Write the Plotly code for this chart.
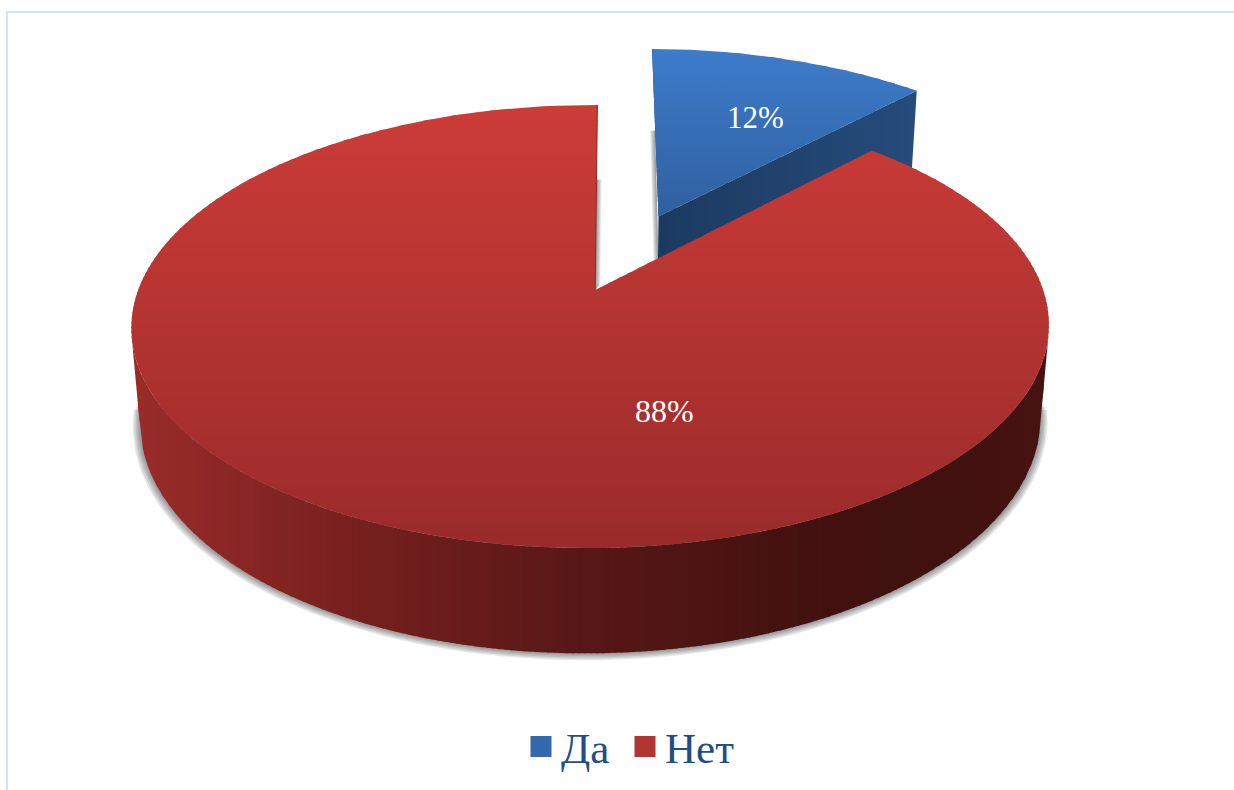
import numpy as np
import plotly.graph_objects as go

labels = ["Да", "Нет"]
values = [12, 88]
label_text = ["12%", "88%"]

# styling
SERIF = "Liberation Serif"
TOP_BLUE = ((61, 124, 203), (47, 96, 159))
TOP_RED = ((204, 60, 55), (154, 43, 43))
WALL_RED_X = [135, 350, 580, 800, 900, 1045]
WALL_RED_C = [(154, 44, 42), (120, 33, 31), (88, 24, 23), (68, 18, 15), (63, 17, 15), (70, 20, 18)]
WALL_BLUE = ((27, 58, 96), (38, 76, 124))
SWATCH = ("#3569AE", "#B03533")

# camera model: flat disc coordinates -> pixels (axes run in pixels)
X0, Y0, A, B, S, K, J, M, C = 595.2, 290.0, 452.5, 215.5, 2.6, 0.165, 0.01, 0.019, 94.8
PULL = 0.395
BLUE_R = 1.012


def proj(u, v, z=0.0):
    u, v = np.asarray(u, float), np.asarray(v, float)
    w = 1 + K * v + J * u + M * z
    return X0 + (A * u + S * v) / w, Y0 - (B * v - C * z) / w


def mix(c0, c1, t):
    return "rgb(%d,%d,%d)" % tuple(round(a + (b - a) * t) for a, b in zip(c0, c1))


def clip_band(xs, ys, lo, hi, axis=1):
    pts = list(zip(xs, ys))
    for lim, sign in ((lo, 1), (hi, -1)):
        out = []
        for i in range(len(pts)):
            a, b = pts[i - 1], pts[i]
            ia, ib = sign * (a[axis] - lim) >= 0, sign * (b[axis] - lim) >= 0
            if ia != ib:
                t = (lim - a[axis]) / (b[axis] - a[axis])
                out.append((a[0] + (b[0] - a[0]) * t, a[1] + (b[1] - a[1]) * t))
            if ib:
                out.append(b)
        pts = out
        if not pts:
            return [], []
    return [p[0] for p in pts], [p[1] for p in pts]


fig = go.Figure()


def poly(xs, ys, color):
    fig.add_trace(go.Scatter(
        x=list(xs) + [xs[0]], y=list(ys) + [ys[0]], mode="lines", fill="toself", fillcolor=color,
        line=dict(color=color, width=0), hoverinfo="skip", showlegend=False))


def banded(xs, ys, color_of, axis, n):
    """Fill a polygon as overlapping bands, each with its own colour."""
    vals = xs if axis == 0 else ys
    lo, hi = min(vals), max(vals)
    edges = np.linspace(lo, hi, n + 1)
    for i in range(n):
        cx, cy = clip_band(xs, ys, edges[i], min(edges[i + 1] + 1.5, hi), axis)
        if len(cx) > 2:
            poly(cx, cy, color_of((edges[i] + edges[i + 1]) / 2, (i + .5) / n))


def sector(a0, a1, cu=0.0, cv=0.0, r=1.0, n=160):
    t = np.radians(np.linspace(a0, a1, n))
    return proj(np.r_[cu, cu + r * np.sin(t)], np.r_[cv, cv + r * np.cos(t)])


total = sum(values)
blue_end = 360 * values[0] / total
mid = np.radians(blue_end / 2)
cu, cv = PULL * np.sin(mid) + 0.001, PULL * np.cos(mid) - 0.005

# soft shadow under the front of the drum
th = np.radians(np.linspace(40, 320, 240))
for e in range(5, 0, -1):
    r = 1 + e * 0.0032
    sx, sy = proj(r * np.sin(th), r * np.cos(th), 1.0)
    sy = sy + e * 0.35
    cx, cy = clip_band(list(sx), list(sy), 395 + e * 3, 790)
    poly(cx, cy, "rgba(60,60,60,0.12)")

# shadows beside the notch walls
for e in range(5, 0, -1):
    x0, y0 = proj(0, 0)
    x1, y1 = proj(0, 0.56)
    poly([x0, x1, x1 + e, x0 + e], [y0, y1, y1, y0 - e], "rgba(60,60,60,0.12)")
    x0, y0 = proj(cu, cv)
    x1, y1 = proj(cu, cv + 0.48)
    poly([x0, x1, x1 - e, x0 - e], [y0 + 45, y1, y1, y0 + 45], "rgba(60,60,60,0.12)")

# blue slice: visible straight wall, then its top
e_u = cu + BLUE_R * np.sin(np.radians(blue_end))
e_v = cv + BLUE_R * np.cos(np.radians(blue_end))
tx, ty = proj([cu, e_u], [cv, e_v])
bx, by = proj([cu, e_u], [cv, e_v], 1.0)
banded([tx[0], tx[1], bx[1], bx[0]], [ty[0], ty[1], by[1], by[0]],
       lambda p, t: mix(*WALL_BLUE, t), axis=0, n=30)
# thin wall along the left edge
tx, ty = proj([cu, cu], [cv, cv + BLUE_R])
poly([tx[0], tx[1], tx[1] + 1.4, tx[0] + 1.4], [ty[0], ty[1], ty[1], ty[0]], "rgb(27,58,96)")
bxs, bys = sector(0, blue_end, cu, cv, BLUE_R)
banded(list(bxs), list(bys), lambda p, t: mix(*TOP_BLUE, t), axis=1, n=40)

# red slice: curved wall between the two silhouette angles, then its top
t = np.radians(np.linspace(45, 315, 1081))
wx0, wy0 = proj(np.sin(t), np.cos(t))
wx1, wy1 = proj(np.sin(t), np.cos(t), 1.0)
cross = np.gradient(wx0) * (wy1 - wy0) - np.gradient(wy0) * (wx1 - wx0)
front = np.sign(cross) == np.sign(cross[len(cross) // 2])
wx0, wy0, wx1, wy1 = wx0[front], wy0[front], wx1[front], wy1[front]


def wall_color(px, _):
    return "rgb(%d,%d,%d)" % tuple(np.interp(px, WALL_RED_X, [c[i] for c in WALL_RED_C]) for i in range(3))


banded(list(wx0[::4]) + list(wx1[::-4]), list(wy0[::4]) + list(wy1[::-4]), wall_color, axis=0, n=150)
rxs, rys = sector(blue_end, 360)
banded(list(rxs), list(rys), lambda p, t: mix(*TOP_RED, t), axis=1, n=90)
# thin dark edge on the 12 o'clock cut
tx, ty = proj([0, 0], [0, 1])
fig.add_trace(go.Scatter(x=tx, y=ty, mode="lines", line=dict(color="rgb(140,40,38)", width=1),
                         hoverinfo="skip", showlegend=False))

# legend entries: one legend per entry so each sits where the reference has it
for name, color, key in zip(labels, SWATCH, ("legend", "legend2")):
    fig.add_trace(go.Scatter(
        x=[None], y=[None], mode="markers", name=name, legend=key,
        marker=dict(symbol="square", size=16, color=color, line=dict(width=5, color=color))))

fig.add_annotation(x=755, y=117, text=label_text[0], showarrow=False,
                   font=dict(family=SERIF, size=31, color="white"))
fig.add_annotation(x=664, y=411, text=label_text[1], showarrow=False,
                   font=dict(family=SERIF, size=32, color="white"))

legend_style = dict(xanchor="left", y=1 - 712 / 790, yanchor="top",
                    font=dict(family=SERIF, size=43, color="#1F4E86"), bgcolor="rgba(0,0,0,0)")
fig.update_layout(
    width=1234, height=790, margin=dict(l=0, r=0, t=0, b=0),
    paper_bgcolor="white", plot_bgcolor="white",
    xaxis=dict(range=[0, 1234], visible=False, fixedrange=True),
    yaxis=dict(range=[790, 0], visible=False, fixedrange=True),
    legend=dict(x=521 / 1234, **legend_style),
    legend2=dict(x=625 / 1234, **legend_style),
    shapes=[dict(type="rect", xref="x", yref="y", x0=7, y0=12, x1=1240, y1=800,
                 line=dict(color="#D5E4F5", width=2), layer="below")],
)
fig.write_html("out.html", config={"displayModeBar": False},
               post_script="document.body.style.margin='0';document.body.style.overflow='hidden';")
